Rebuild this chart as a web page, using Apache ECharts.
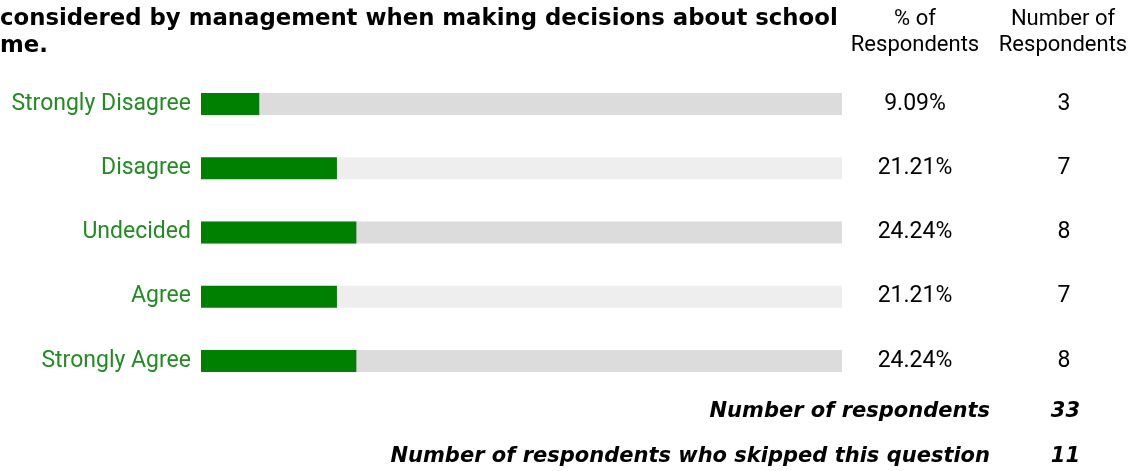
<!DOCTYPE html>
<html><head><meta charset="utf-8">
<script src="https://cdn.jsdelivr.net/npm/echarts@6/dist/echarts.min.js"></script>
<style>html,body{margin:0;padding:0;background:#fff}#c{width:1148px;height:471px}</style>
</head><body><div id="c"></div>
<script>
const titleLines = ['considered by management when making decisions about school', 'me.'];
const categories = ['Strongly Disagree', 'Disagree', 'Undecided', 'Agree', 'Strongly Agree'];
const percents = [9.09, 21.21, 24.24, 21.21, 24.24];
const counts = [3, 7, 8, 7, 8];
const pctHeader = ['% of', 'Respondents'];
const cntHeader = ['Number of', 'Respondents'];
const footerLabels = ['Number of respondents', 'Number of respondents who skipped this question'];
const footerValues = [33, 11];
const scaleMax = 100;

const FONT = 'Roboto';
const gridLeft = 201, gridWidth = 641;
const pctCenter = 915, cntCenter = 1064;
const bgColors = ['#dcdcdc', '#eeeeee'];

const chart = echarts.init(document.getElementById('c'));
const full = categories.map(() => scaleMax);

function txt(x, y, text, extra) {
  return { type: 'text', x: x, y: y, style: Object.assign({
    text: text, fontFamily: FONT, fontSize: 22, fill: '#000', align: 'center', verticalAlign: 'middle'
  }, extra || {}) };
}

const graphics = [];
titleLines.forEach((t, i) => graphics.push(txt(0, 19 + i * 27, t, {
  align: 'left', fontFamily: 'DejaVu Sans', fontWeight: 'bold', fontSize: 22.8
})));
pctHeader.forEach((t, i) => graphics.push(txt(pctCenter, 19 + i * 26, t)));
cntHeader.forEach((t, i) => graphics.push(txt(1063, 19 + i * 26, t)));
const footStyle = { align: 'right', fontFamily: 'DejaVu Sans', fontWeight: 'bold', fontStyle: 'italic', fontSize: 21 };
footerLabels.forEach((t, i) => {
  const y = 412 + i * 45;
  graphics.push(txt(990, y, t, footStyle));
  graphics.push(txt(1080, y, String(footerValues[i]), footStyle));
});

chart.setOption({
  animation: false,
  grid: { left: gridLeft, width: gridWidth, top: 72, height: 321 },
  xAxis: { type: 'value', min: 0, max: scaleMax, show: false },
  yAxis: {
    type: 'category', data: categories, inverse: true,
    axisLine: { show: false }, axisTick: { show: false }, splitLine: { show: false },
    axisLabel: { color: '#228B22', fontFamily: FONT, fontSize: 23, margin: 10 }
  },
  series: [
    {
      type: 'bar', data: full, barWidth: 22, silent: true, z: 1,
      itemStyle: { color: p => bgColors[p.dataIndex % 2] },
      label: {
        show: true, position: [pctCenter - gridLeft, '50%'], align: 'center', verticalAlign: 'middle',
        color: '#000', fontFamily: FONT, fontSize: 23,
        formatter: p => percents[p.dataIndex].toFixed(2) + '%'
      }
    },
    {
      type: 'bar', data: percents, barWidth: 22, barGap: '-100%', z: 2,
      itemStyle: { color: '#008000' }
    },
    {
      type: 'bar', data: full, barWidth: 22, barGap: '-100%', z: 3, silent: true,
      itemStyle: { color: 'rgba(0,0,0,0)' },
      label: {
        show: true, position: [cntCenter - gridLeft, '50%'], align: 'center', verticalAlign: 'middle',
        color: '#000', fontFamily: FONT, fontSize: 23,
        formatter: p => String(counts[p.dataIndex])
      }
    }
  ],
  graphic: graphics
});
</script></body></html>
